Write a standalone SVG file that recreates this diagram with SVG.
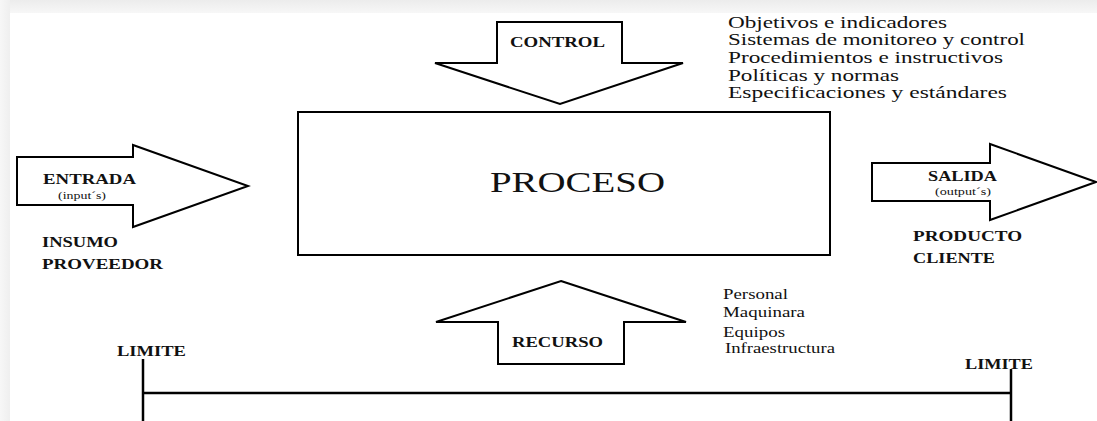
<svg xmlns="http://www.w3.org/2000/svg" width="1097" height="421" viewBox="0 0 1097 421">
<defs>
<linearGradient id="topShadow" x1="0" y1="0" x2="0" y2="1">
<stop offset="0" stop-color="#ececec"/>
<stop offset="1" stop-color="#f7f7f7"/>
</linearGradient>
<linearGradient id="leftShadow" x1="0" y1="0" x2="1" y2="0">
<stop offset="0" stop-color="#f7f7f7"/>
<stop offset="1" stop-color="#efefef"/>
</linearGradient>
<style>
text{font-family:'Liberation Serif','DejaVu Serif',serif;fill:#111}
.shape{fill:#fff;stroke:#000;stroke-width:2;stroke-linejoin:miter}
.line{stroke:#000;stroke-width:2.5;fill:none}
.lbl{font-weight:bold;font-size:14.5px}
.sub{font-size:10.5px}
.list{font-size:17px}
.small{font-size:14px}
.big{font-size:29px}
</style>
</defs>
<rect x="0" y="0" width="1097" height="421" fill="#f3f3f3"/>
<rect x="0" y="0" width="1097" height="13" fill="url(#topShadow)"/>
<rect x="0" y="0" width="10" height="421" fill="url(#leftShadow)"/>
<rect x="10" y="13" width="1087" height="408" fill="#fff"/>

<g id="proceso">
<rect class="shape" x="298" y="112" width="532" height="143"/>
<text class="big" x="490" y="192" textLength="175" lengthAdjust="spacingAndGlyphs">PROCESO</text>
</g>

<g id="control">
<polygon class="shape" points="497,22 622,22 622,63 683,63 560,104 435,63 497,63"/>
<text class="lbl" x="510" y="47" textLength="95" lengthAdjust="spacingAndGlyphs">CONTROL</text>
</g>

<g id="control-lista">
<text class="list" x="728" y="28" textLength="219" lengthAdjust="spacingAndGlyphs">Objetivos e indicadores</text>
<text class="list" x="728" y="45" textLength="297" lengthAdjust="spacingAndGlyphs">Sistemas de monitoreo y control</text>
<text class="list" x="728" y="63" textLength="275" lengthAdjust="spacingAndGlyphs">Procedimientos e instructivos</text>
<text class="list" x="728" y="81" textLength="171" lengthAdjust="spacingAndGlyphs">Políticas y normas</text>
<text class="list" x="728" y="98" textLength="279" lengthAdjust="spacingAndGlyphs">Especificaciones y estándares</text>
</g>

<g id="entrada">
<polygon class="shape" points="17,157 133,157 133,145 248,186 133,227 133,205 17,205"/>
<text class="lbl" x="43" y="184" textLength="93" lengthAdjust="spacingAndGlyphs">ENTRADA</text>
<text class="sub" x="58" y="199" textLength="48" lengthAdjust="spacingAndGlyphs">(input´s)</text>
</g>

<g id="insumo">
<text class="lbl" x="42" y="247" textLength="76" lengthAdjust="spacingAndGlyphs">INSUMO</text>
<text class="lbl" x="42" y="269" textLength="121" lengthAdjust="spacingAndGlyphs">PROVEEDOR</text>
</g>

<g id="salida">
<polygon class="shape" points="872,163 990,163 990,144 1096,182 990,220 990,201 872,201"/>
<text class="lbl" x="928" y="181" textLength="69" lengthAdjust="spacingAndGlyphs">SALIDA</text>
<text class="sub" x="935" y="195" textLength="56" lengthAdjust="spacingAndGlyphs">(output´s)</text>
</g>

<g id="producto">
<text class="lbl" x="913" y="241" textLength="109" lengthAdjust="spacingAndGlyphs">PRODUCTO</text>
<text class="lbl" x="913" y="263" textLength="82" lengthAdjust="spacingAndGlyphs">CLIENTE</text>
</g>

<g id="recurso">
<polygon class="shape" points="561,281 686,322 624,322 624,364 498,364 498,322 436,322"/>
<text class="lbl" x="512" y="347" textLength="91" lengthAdjust="spacingAndGlyphs">RECURSO</text>
</g>

<g id="recurso-lista">
<text class="small" x="723" y="299" textLength="65" lengthAdjust="spacingAndGlyphs">Personal</text>
<text class="small" x="723" y="317" textLength="82" lengthAdjust="spacingAndGlyphs">Maquinara</text>
<text class="small" x="723" y="337" textLength="62" lengthAdjust="spacingAndGlyphs">Equipos</text>
<text class="small" x="725" y="353" textLength="110" lengthAdjust="spacingAndGlyphs">Infraestructura</text>
</g>

<g id="limite-izq">
<text class="lbl" x="117" y="356" textLength="69" lengthAdjust="spacingAndGlyphs">LIMITE</text>
</g>
<g id="limite-der">
<text class="lbl" x="965" y="369" textLength="68" lengthAdjust="spacingAndGlyphs">LIMITE</text>
</g>

<g id="connectors">
<line class="line" x1="143" y1="359" x2="143" y2="421"/>
<line class="line" x1="1011" y1="369" x2="1011" y2="421"/>
<line class="line" x1="143" y1="393" x2="1011" y2="393" stroke-width="2"/>
</g>
</svg>
